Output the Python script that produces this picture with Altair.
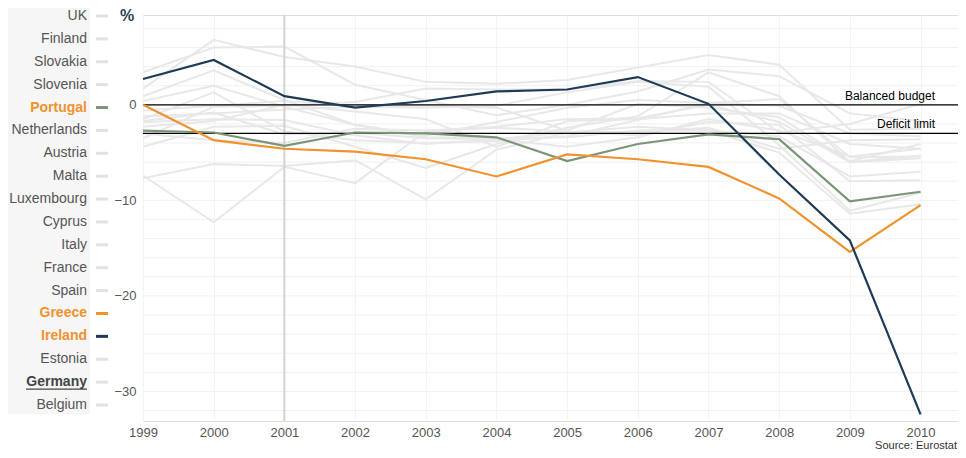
import altair as alt
import pandas as pd

years = list(range(1999, 2011))

# Government balance, % of GDP (Eurostat)
uk          = [0.9, 3.6, 0.5, -2.1, -3.4, -3.5, -3.4, -2.7, -2.7, -5.0, -11.4, -10.4]
finland     = [1.7, 6.8, 5.0, 4.0, 2.4, 2.2, 2.6, 3.9, 5.2, 4.2, -2.6, -2.5]
slovakia    = [-7.4, -12.3, -6.5, -8.2, -2.8, -2.4, -2.8, -3.2, -1.8, -2.1, -8.0, -7.9]
slovenia    = [-3.0, -3.7, -4.0, -2.5, -2.7, -2.3, -1.5, -1.4, 0.0, -1.8, -6.0, -5.6]
netherlands = [0.4, 2.0, -0.2, -2.1, -3.2, -1.8, -0.3, 0.5, 0.2, 0.6, -5.5, -5.4]
austria     = [-2.3, -1.7, 0.0, -0.7, -1.5, -4.4, -1.7, -1.5, -0.9, -0.9, -4.1, -4.6]
malta       = [-7.7, -6.2, -6.4, -5.8, -9.9, -4.7, -2.9, -2.8, -2.4, -4.6, -3.7, -3.6]
luxembourg  = [3.4, 6.0, 6.1, 2.1, 0.5, -1.1, 0.0, 1.4, 3.7, 3.0, -0.9, -1.7]
cyprus      = [-4.4, -2.3, -2.2, -4.4, -6.6, -4.1, -2.4, -1.2, 3.4, 0.9, -6.0, -5.3]
italy       = [-1.7, -0.8, -3.1, -2.9, -3.5, -3.6, -4.4, -3.4, -1.5, -2.7, -5.4, -4.6]
france      = [-1.8, -1.5, -1.6, -3.2, -4.1, -3.6, -2.9, -2.3, -2.7, -3.3, -7.5, -7.0]
spain       = [-1.2, -0.9, -0.5, -0.2, -0.3, -0.1, 1.3, 2.4, 1.9, -4.2, -11.1, -9.2]
estonia     = [-3.5, -0.2, -0.1, 0.3, 1.7, 1.6, 1.6, 2.5, 2.4, -2.9, -2.0, 0.1]
germany     = [-1.5, 1.3, -2.8, -3.7, -4.0, -3.8, -3.3, -1.6, 0.2, -0.1, -3.0, -3.3]
belgium     = [-0.6, -0.1, 0.4, -0.1, -0.1, -0.3, -2.7, 0.1, -0.3, -1.3, -5.9, -4.1]

portugal    = [-2.7, -2.9, -4.3, -2.9, -3.0, -3.4, -5.9, -4.1, -3.1, -3.6, -10.1, -9.1]
greece      = [0.0, -3.7, -4.6, -4.9, -5.7, -7.5, -5.2, -5.7, -6.5, -9.8, -15.4, -10.5]
ireland     = [2.7, 4.7, 0.9, -0.3, 0.4, 1.4, 1.6, 2.9, 0.1, -7.3, -14.2, -32.4]

legend_order = ["UK", "Finland", "Slovakia", "Slovenia", "Portugal", "Netherlands",
                "Austria", "Malta", "Luxembourg", "Cyprus", "Italy", "France",
                "Spain", "Greece", "Ireland", "Estonia", "Germany", "Belgium"]
highlighted = ["Portugal", "Greece", "Ireland"]
highlight_colors = ["#7b9577", "#f0922e", "#1e3a56"]
selected = "Germany"
hover_year = [2001]

ref_values = [0, -3]
ref_labels = ["Balanced budget", "Deficit limit"]
grid_values = list(range(-32, 10, 2))
y_label_values = [-30, -20, -10, 0]

others = {
    "UK": uk, "Finland": finland, "Slovakia": slovakia, "Slovenia": slovenia,
    "Netherlands": netherlands, "Austria": austria, "Malta": malta,
    "Luxembourg": luxembourg, "Cyprus": cyprus, "Italy": italy, "France": france,
    "Spain": spain, "Estonia": estonia, "Germany": germany, "Belgium": belgium,
}
hl = {"Portugal": portugal, "Greece": greece, "Ireland": ireland}

gray_df = pd.DataFrame([{"country": c, "year": y, "v": v}
                        for c, vals in others.items() for y, v in zip(years, vals)])
hl_df = pd.DataFrame([{"country": c, "year": y, "v": v}
                      for c, vals in hl.items() for y, v in zip(years, vals)])

FONT = "Liberation Sans"
LABEL = "#555555"

xs = alt.Scale(domain=[1999, 2010.53], nice=False, zero=False)
ys = alt.Scale(domain=[-33.1, 9.4], nice=False, zero=False)
x_axis = alt.Axis(values=years, format="d", grid=True, gridColor="#f3f3f3",
                  ticks=False, domain=False, labelFontSize=13, labelColor=LABEL,
                  labelPadding=5, labelFlush=False, title=None, labelFont=FONT)
y_axis = alt.Axis(values=y_label_values, grid=False, ticks=False, domain=False,
                  labelFontSize=13, labelColor=LABEL, labelPadding=7, title=None,
                  labelFont=FONT)


def X(field):
    return alt.X(field, scale=xs, axis=x_axis)


def Y(field):
    return alt.Y(field, scale=ys, axis=y_axis)


grid = alt.Chart(pd.DataFrame({"v": grid_values})).mark_rule(
    color="#f1f1f1", strokeWidth=1).encode(y=Y("v:Q"))

gray_lines = alt.Chart(gray_df).mark_line(color="#e8e8e8", strokeWidth=2).encode(
    x=X("year:Q"), y=Y("v:Q"), detail="country:N")

hover_rule = alt.Chart(pd.DataFrame({"year": hover_year})).mark_rule(
    color="#d2d2d2", strokeWidth=2).encode(x=X("year:Q"))

ref_df = pd.DataFrame({"v": ref_values, "label": ref_labels})
ref_rules = alt.Chart(ref_df).mark_rule(color="black", strokeWidth=1.2).encode(y=Y("v:Q"))
ref_text = alt.Chart(ref_df).mark_text(
    align="right", baseline="bottom", dy=-2, fontSize=12, color="black", font=FONT
).encode(y=Y("v:Q"), x=alt.value(792), text="label:N")

hl_lines = alt.Chart(hl_df).mark_line(strokeWidth=2.2).encode(
    x=X("year:Q"), y=Y("v:Q"),
    color=alt.Color("country:N", scale=alt.Scale(domain=highlighted, range=highlight_colors),
                    legend=None))

main = alt.layer(grid, gray_lines, hover_rule, ref_rules, ref_text, hl_lines)

# left country list
leg_df = pd.DataFrame({"country": legend_order, "idx": list(range(len(legend_order)))})
leg_df["kind"] = ["hl" if c in highlighted else ("sel" if c == selected else "norm")
                  for c in legend_order]
dash_color = {c: col for c, col in zip(highlighted, highlight_colors)}
leg_df["dash"] = [dash_color.get(c, "#e2e2e2") for c in legend_order]

ly = alt.Y("idx:Q", scale=alt.Scale(domain=[0, len(legend_order) - 1], range=[1, 390]),
           axis=None)

LX = -56

panel = alt.Chart(pd.DataFrame({"a": [0]})).mark_rect(color="#f6f6f6").encode(
    x=alt.value(-135), x2=alt.value(-53), y=alt.value(-7), y2=alt.value(399))

norm_labels = alt.Chart(leg_df).transform_filter(alt.datum.kind == "norm").mark_text(
    align="right", baseline="middle", fontSize=14, color=LABEL, font=FONT
).encode(x=alt.value(LX), y=ly, text="country:N")

hl_labels = alt.Chart(leg_df).transform_filter(alt.datum.kind == "hl").mark_text(
    align="right", baseline="middle", fontSize=14, color="#f0922e", fontWeight="bold", font=FONT
).encode(x=alt.value(LX), y=ly, text="country:N")

sel_labels = alt.Chart(leg_df).transform_filter(alt.datum.kind == "sel").mark_text(
    align="right", baseline="middle", fontSize=14, color="#444444", fontWeight="bold", font=FONT
).encode(x=alt.value(LX), y=ly, text="country:N")

sel_underline = alt.Chart(leg_df).transform_filter(alt.datum.kind == "sel").mark_rule(
    color="#444444", strokeWidth=1.2, yOffset=7
).encode(x=alt.value(LX - 61), x2=alt.value(LX), y=ly)

dashes = alt.Chart(leg_df).mark_rule(strokeWidth=3).encode(
    x=alt.value(LX + 9), x2=alt.value(LX + 21), y=ly, color=alt.Color("dash:N", scale=None))

pct = alt.Chart(pd.DataFrame({"t": ["%"]})).mark_text(
    align="center", baseline="middle", fontSize=16, fontWeight="bold", color="#2b3f55", font=FONT
).encode(x=alt.value(-16), y=alt.value(1), text="t:N")

source = alt.Chart(pd.DataFrame({"t": ["Source: Eurostat"]})).mark_text(
    align="right", baseline="middle", fontSize=11, color="#333333", font=FONT
).encode(x=alt.value(814), y=alt.value(431), text="t:N")

side = alt.layer(panel, dashes, norm_labels, hl_labels, sel_labels, sel_underline, pct, source)

chart = alt.layer(main, side).resolve_scale(y="independent").properties(
    width=815, height=406,
    padding={"left": 135, "top": 7, "right": 0, "bottom": 29},
    autosize=alt.AutoSizeParams(type="none"),
).configure_view(stroke=None).configure(font=FONT)

chart.save("out.html", embed_options={"renderer": "svg", "actions": False})
